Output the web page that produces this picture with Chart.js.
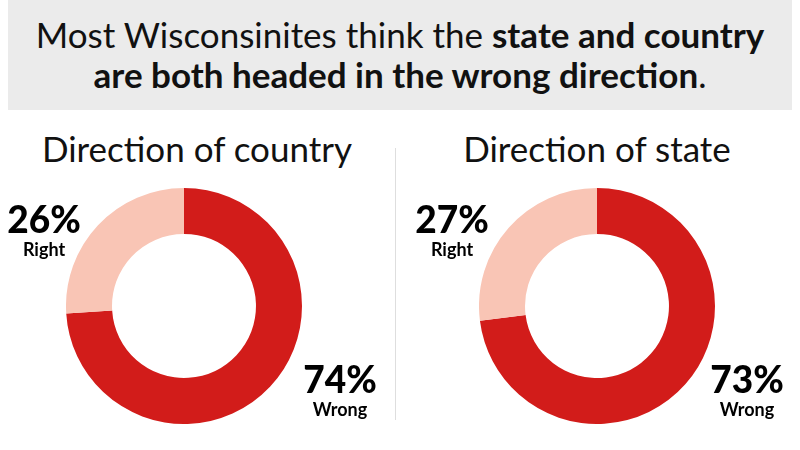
<!DOCTYPE html>
<html>
<head>
<meta charset="utf-8">
<script src="https://cdn.jsdelivr.net/npm/chart.js@4"></script>
<style>
  body { margin: 0; width: 800px; height: 450px; background: #fff; font-family: Lato, sans-serif; position: relative; overflow: hidden; }
  #head { position: absolute; left: 8px; top: 0; width: 784px; height: 110px; background: #ebebeb; text-align: center; font-size: 35px; line-height: 40px; color: #111; padding-top: 14px; box-sizing: border-box; }
  #head b { font-weight: 700; }
  .sub { position: absolute; top: 127px; width: 400px; text-align: center; font-size: 35px; font-weight: 400; color: #111; }
  .box { position: absolute; width: 236px; height: 236px; }
  .lab { position: absolute; width: 110px; text-align: center; color: #000; }
  .lab .p { font-size: 37px; font-weight: 900; line-height: 40px; }
  .lab .w { font-size: 18px; font-weight: 700; line-height: 20px; }
  #rule { position: absolute; left: 395px; top: 148px; width: 1px; height: 272px; background: #dedede; }
</style>
</head>
<body>
<div id="head">Most Wisconsinites think the <b>state and country</b><br><b>are both headed in the wrong direction</b>.</div>
<div class="sub" style="left:-3px">Direction of country</div>
<div class="sub" style="left:397px">Direction of state</div>
<div id="rule"></div>
<div class="box" style="left:66px;top:188px"><canvas id="c1"></canvas></div>
<div class="box" style="left:479px;top:188px"><canvas id="c2"></canvas></div>
<div class="lab" style="left:-11px;top:199px"><div class="p" id="l1r"></div><div class="w">Right</div></div>
<div class="lab" style="left:285px;top:359px"><div class="p" id="l1w"></div><div class="w">Wrong</div></div>
<div class="lab" style="left:397px;top:199px"><div class="p" id="l2r"></div><div class="w">Right</div></div>
<div class="lab" style="left:692px;top:359px"><div class="p" id="l2w"></div><div class="w">Wrong</div></div>
<script>
const labels = ['Wrong', 'Right'];
const countryValues = [74, 26];
const stateValues = [73, 27];
const colors = ['#d21c1a', '#f9c5b5'];

function drawDonut(id, values) {
    new Chart(document.getElementById(id), {
        type: 'doughnut',
        data: {
            labels: labels,
            datasets: [{ data: values, backgroundColor: colors, borderWidth: 0 }]
        },
        options: {
            responsive: true,
            maintainAspectRatio: false,
            animation: false,
            cutout: '61%',
            layout: { padding: 0 },
            plugins: { legend: { display: false }, tooltip: { enabled: false } }
        }
    });
}

drawDonut('c1', countryValues);
drawDonut('c2', stateValues);
document.getElementById('l1w').textContent = countryValues[0] + '%';
document.getElementById('l1r').textContent = countryValues[1] + '%';
document.getElementById('l2w').textContent = stateValues[0] + '%';
document.getElementById('l2r').textContent = stateValues[1] + '%';
</script>
</body>
</html>
